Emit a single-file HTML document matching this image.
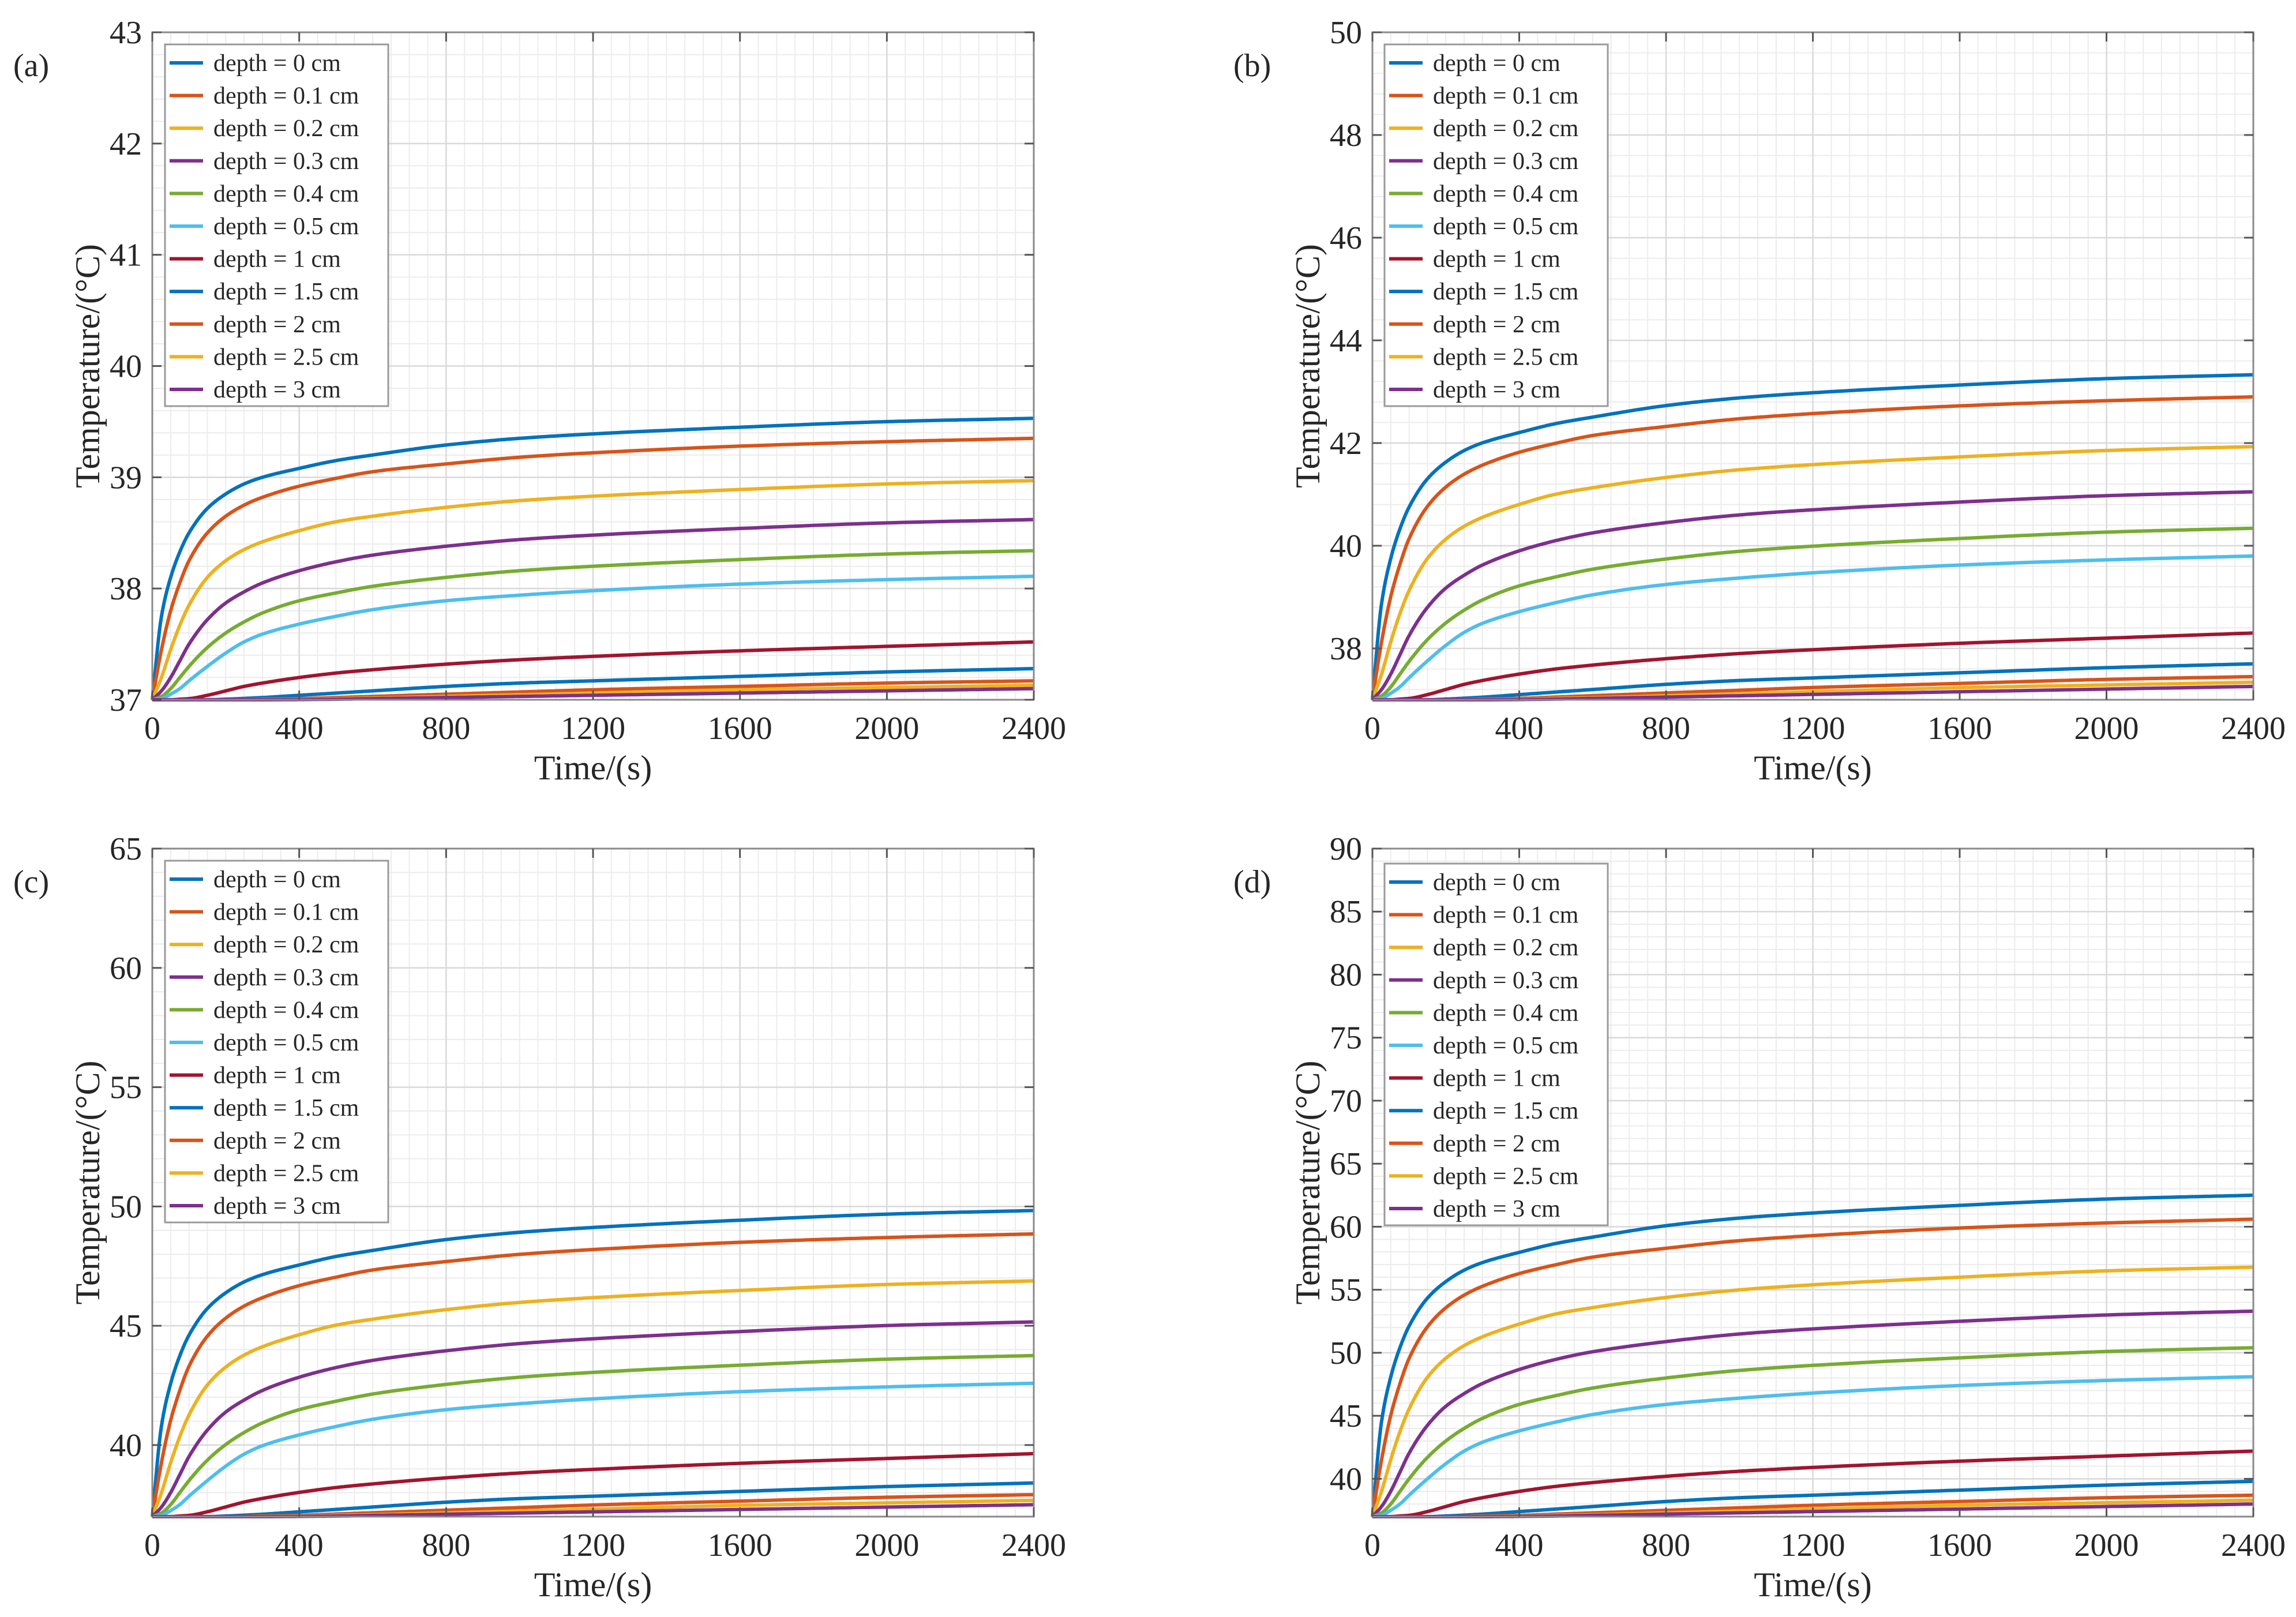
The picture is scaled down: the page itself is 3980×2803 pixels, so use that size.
<!DOCTYPE html>
<html><head><meta charset="utf-8"><style>
html,body{margin:0;padding:0;background:#fff;}
svg text{font-family:"Liberation Serif",serif;fill:#262626;}
</style></head><body>
<svg id="fig" width="3980" height="2798" viewBox="0 0 3980 2798" xmlns="http://www.w3.org/2000/svg"></svg>
<script>
// sample times (s)
const times = [0,25,50,75,100,150,200,250,300,400,500,600,800,1000,1200,1600,2000,2400];
const depthLabels = ["depth = 0 cm","depth = 0.1 cm","depth = 0.2 cm","depth = 0.3 cm","depth = 0.4 cm","depth = 0.5 cm","depth = 1 cm","depth = 1.5 cm","depth = 2 cm","depth = 2.5 cm","depth = 3 cm"];
// panel (a) temperatures
const panelA = [
 [37,37.75,38.1,38.33,38.5,38.72,38.85,38.94,39.0,39.08,39.15,39.2,39.29,39.35,39.39,39.45,39.5,39.53],
 [37,37.45,37.8,38.05,38.25,38.5,38.65,38.75,38.82,38.92,38.99,39.05,39.12,39.18,39.22,39.28,39.32,39.35],
 [37,37.2,37.45,37.67,37.85,38.1,38.25,38.35,38.42,38.52,38.6,38.65,38.73,38.79,38.83,38.89,38.94,38.97],
 [37,37.08,37.2,37.35,37.5,37.72,37.87,37.97,38.05,38.16,38.24,38.3,38.38,38.44,38.48,38.54,38.59,38.62],
 [37,37.03,37.1,37.2,37.3,37.47,37.6,37.7,37.78,37.89,37.96,38.02,38.1,38.16,38.2,38.26,38.31,38.34],
 [37,37.01,37.05,37.1,37.17,37.3,37.42,37.52,37.59,37.68,37.75,37.81,37.89,37.94,37.98,38.04,38.08,38.11],
 [37,37,37,37.005,37.01,37.04,37.08,37.12,37.15,37.2,37.24,37.27,37.32,37.36,37.39,37.44,37.48,37.52],
 [37,37,37,37,37,37,37.005,37.012,37.02,37.04,37.06,37.08,37.12,37.15,37.17,37.21,37.25,37.28],
 [37,37,37,37,37,37,37,37.002,37.005,37.01,37.02,37.03,37.05,37.07,37.09,37.12,37.15,37.17],
 [37,37,37,37,37,37,37,37,37.001,37.005,37.01,37.015,37.03,37.045,37.06,37.09,37.11,37.13],
 [37,37,37,37,37,37,37,37,37,37.002,37.005,37.01,37.02,37.03,37.04,37.06,37.08,37.10]
];
// final temperatures (t=2400 s) read for each panel
const finalA = [39.53,39.35,38.97,38.62,38.34,38.11,37.52,37.28,37.17,37.13,37.10];
const finalB = [43.33,42.9,41.93,41.05,40.34,39.8,38.3,37.7,37.45,37.34,37.26];
const finalC = [49.83,48.85,46.88,45.16,43.75,42.59,39.64,38.41,37.92,37.68,37.5];
const finalD = [62.5,60.6,56.8,53.3,50.4,48.1,42.2,39.8,38.7,38.3,38.0];
const xTicks = [0,400,800,1200,1600,2000,2400];
const yTicksA = [37,38,39,40,41,42,43];
const yTicksB = [38,40,42,44,46,48,50];
const yTicksC = [40,45,50,55,60,65];
const yTicksD = [40,45,50,55,60,65,70,75,80,85,90];
const colors = ["#0072BD","#D95319","#EDB120","#7E2F8E","#77AC30","#4DBEEE","#A2142F","#0072BD","#D95319","#EDB120","#7E2F8E"];

const NS="http://www.w3.org/2000/svg";
const svg=document.getElementById('fig');
function mk(tag,attrs,parent){const e=document.createElementNS(NS,tag);for(const k in attrs)e.setAttribute(k,attrs[k]);(parent||svg).appendChild(e);return e;}

const panels=[
 {id:'a',x0:264,x1:1792,y0:56,y1:1213,ymin:37,ymax:43,yt:yTicksA,ym:0.2,fin:finalA,lg:[286,77]},
 {id:'b',x0:2379,x1:3906,y0:56,y1:1213,ymin:37,ymax:50,yt:yTicksB,ym:0.4,fin:finalB,lg:[2400,77]},
 {id:'c',x0:264,x1:1792,y0:1471,y1:2629,ymin:37,ymax:65,yt:yTicksC,ym:1,fin:finalC,lg:[286,1492]},
 {id:'d',x0:2379,x1:3906,y0:1471,y1:2629,ymin:37,ymax:90,yt:yTicksD,ym:1,fin:finalD,lg:[2400,1497]}
];

// monotone cubic (Fritsch-Carlson) interpolation
function monotonePath(xs,ys,X,Y){
 const n=xs.length,d=[],m=new Array(n);
 for(let i=0;i<n-1;i++)d.push((ys[i+1]-ys[i])/(xs[i+1]-xs[i]));
 m[0]=d[0];m[n-1]=d[n-2];
 for(let i=1;i<n-1;i++){ if(d[i-1]*d[i]<=0)m[i]=0; else { const w1=2*(xs[i+1]-xs[i])+(xs[i]-xs[i-1]), w2=(xs[i+1]-xs[i])+2*(xs[i]-xs[i-1]); m[i]=(w1+w2)/(w1/d[i-1]+w2/d[i]); } }
 let s='';
 for(let i=0;i<n-1;i++){
  const h=xs[i+1]-xs[i];
  const steps=24;
  for(let k=(i===0?0:1);k<=steps;k++){
   const t=k/steps,t2=t*t,t3=t2*t;
   const v=(2*t3-3*t2+1)*ys[i]+(t3-2*t2+t)*h*m[i]+(-2*t3+3*t2)*ys[i+1]+(t3-t2)*h*m[i+1];
   const x=xs[i]+t*h;
   s+=(s?' L':'M')+X(x).toFixed(1)+','+Y(v).toFixed(1);
  }
 }
 return s;
}

panels.forEach(p=>{
 const g=mk('g',{});
 
 
 const X=t=>p.x0+(t-0)/(2400-0)*(p.x1-p.x0);
 const Y=v=>p.y1-(v-p.ymin)/(p.ymax-p.ymin)*(p.y1-p.y0);
 const mg=mk('g',{stroke:'#ececec','stroke-width':2},g);
 
 
 for(let t=50;t<2400;t+=50){if(t%400)mk('line',{x1:X(t),x2:X(t),y1:p.y0,y2:p.y1},mg);}
 for(let v=Math.ceil(p.ymin/p.ym)*p.ym;v<p.ymax-1e-6;v+=p.ym){mk('line',{x1:p.x0,x2:p.x1,y1:Y(v),y2:Y(v)},mg);}
 const Mg=mk('g',{stroke:'#d9d9d9','stroke-width':2.5},g);
 
 
 xTicks.forEach(t=>mk('line',{x1:X(t),x2:X(t),y1:p.y0,y2:p.y1},Mg));
 p.yt.forEach(v=>mk('line',{x1:p.x0,x2:p.x1,y1:Y(v),y2:Y(v)},Mg));
 const riseA=finalA.map(f=>f-37);
 panelA.forEach((row,i)=>{
  const vals=row.map(v=>37+(v-37)/riseA[i]*(p.fin[i]-37));
  const path=mk('path',{d:monotonePath(times,vals,X,Y),fill:'none',stroke:colors[i],'stroke-width':6,'stroke-linejoin':'round'},g);
  
  
 });
 const box=mk('rect',{x:p.x0,y:p.y0,width:p.x1-p.x0,height:p.y1-p.y0,fill:'none',stroke:'#8a8a8a','stroke-width':3},g);
 
 
 const tk=mk('g',{stroke:'#555','stroke-width':3},g);
 xTicks.forEach(t=>{mk('line',{x1:X(t),x2:X(t),y1:p.y1,y2:p.y1-16},tk);mk('line',{x1:X(t),x2:X(t),y1:p.y0,y2:p.y0+16},tk);});
 p.yt.forEach(v=>{mk('line',{x1:p.x0,x2:p.x0+16,y1:Y(v),y2:Y(v)},tk);mk('line',{x1:p.x1,x2:p.x1-16,y1:Y(v),y2:Y(v)},tk);});
 xTicks.forEach(t=>{const e=mk('text',{x:X(t),y:p.y1+68,'font-size':56,'text-anchor':'middle'},g);e.textContent=t;
  });
 p.yt.forEach(v=>{const e=mk('text',{x:p.x0-18,y:Y(v)+19,'font-size':56,'text-anchor':'end'},g);e.textContent=v;
  });
 const xl=mk('text',{x:(p.x0+p.x1)/2,y:p.y1+138,'font-size':60,'text-anchor':'middle'},g);xl.textContent='Time/(s)';
 
 const yc=(p.y0+p.y1)/2;
 const yl=mk('text',{x:p.x0-112,y:yc+20,'font-size':60,'text-anchor':'middle',transform:'rotate(-90 '+(p.x0-112)+' '+yc+')'},g);
 yl.textContent='Temperature/(°C)';
 
 const pl=mk('text',{x:p.x0-241,y:p.y0+76,'font-size':56},g);pl.textContent='('+p.id+')';
 
 const lg=mk('g',{},g);
 
 
 const lx=p.lg[0],ly=p.lg[1];
 mk('rect',{x:lx,y:ly,width:387,height:627,fill:'#fff',stroke:'#9a9a9a','stroke-width':3},lg);
 depthLabels.forEach((s,i)=>{
  const cy=ly+32+i*56.6;
  const ln=mk('line',{x1:lx+8,x2:lx+66,y1:cy,y2:cy,stroke:colors[i],'stroke-width':6},lg);
  
  const t=mk('text',{x:lx+84,y:cy+14,'font-size':42},lg);t.textContent=s;
  
 });
});
</script>
</body></html>
